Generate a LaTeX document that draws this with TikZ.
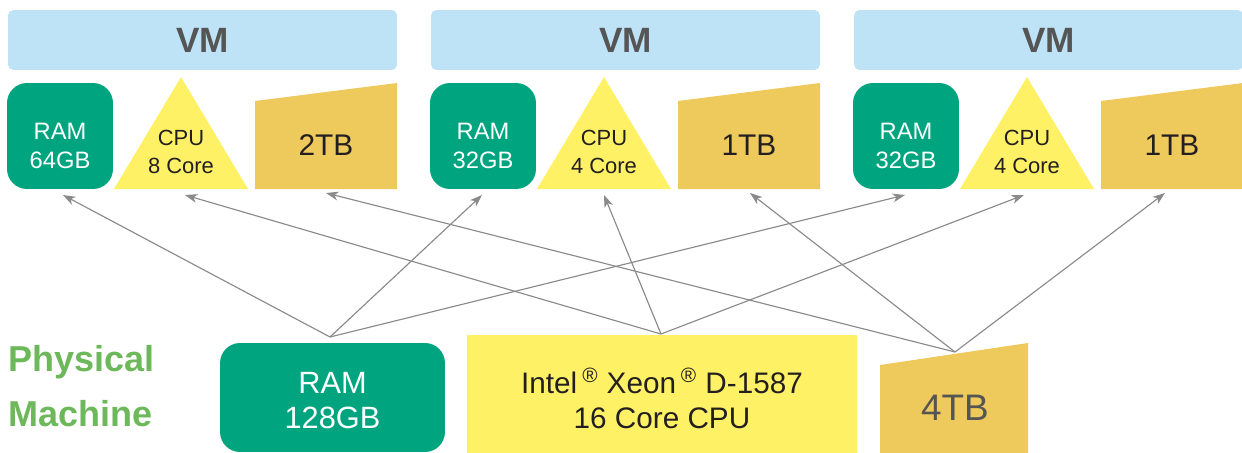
\documentclass[tikz,border=0pt]{standalone}
\usepackage{fontspec}
\setmainfont{Liberation Sans}
\usetikzlibrary{arrows.meta}

\definecolor{vmblue}{HTML}{BEE3F6}
\definecolor{ramgreen}{HTML}{00A57F}
\definecolor{cpuyellow}{HTML}{FFF166}
\definecolor{diskgold}{HTML}{EEC95C}
\definecolor{physgreen}{HTML}{6DB85B}
\definecolor{textgray}{HTML}{555555}
\definecolor{textdark}{HTML}{231F20}
\definecolor{linkgray}{HTML}{8A8A8A}

\begin{document}
\begin{tikzpicture}[x=0.02cm, y=-0.02cm,
    vmbox/.style={fill=vmblue, rounded corners=3pt, minimum width=7.78cm, minimum height=1.2cm,
        text=textgray, font=\fontsize{20}{24}\selectfont\bfseries},
    ramsmall/.style={fill=ramgreen, rounded corners=0.4cm, minimum width=2.12cm, minimum height=2.12cm},
    ramtext/.style={text=white, align=center, font=\fontsize{13.5}{16}\selectfont},
    cputext/.style={text=textdark, align=center, font=\fontsize{12.5}{16}\selectfont},
    disktext/.style={text=textdark, font=\fontsize{17}{20}\selectfont},
    rambig/.style={fill=ramgreen, rounded corners=0.4cm, minimum width=4.5cm, minimum height=2.18cm},
    rambigtext/.style={text=white, align=center, font=\fontsize{17.5}{19.5}\selectfont},
    cpubig/.style={fill=cpuyellow, minimum width=7.8cm, minimum height=2.36cm,
        text=textdark, align=center, font=\fontsize{16.9}{20}\selectfont},
    link/.style={linkgray, line width=0.65pt, -{Stealth[length=7pt, width=5pt, inset=2pt]}}]
\useasboundingbox (0,0) rectangle (1242,453);

% virtual machines
\foreach \i/\mem/\core/\disk/\rx/\cx/\dx in {0/64/8/2/63/185/326, 1/32/4/1/59/181/327, 2/32/4/1/59/178/319} {
    \node[vmbox] (vm\i) at (423*\i+202.5,40) {VM};
    \node[ramsmall] (ram\i) at (423*\i+60,136) {};
    \node[ramtext] (ramlbl\i) at ([yshift=-0.2cm]ram\i.center) {RAM\\\mem GB};
    \fill[cpuyellow] (423*\i+181,77) -- (423*\i+248,189) -- (423*\i+114,189) -- cycle;
    \node[cputext] (cpu\i) at (423*\i+181,152) {CPU\\\core{} Core};
    \fill[diskgold] (423*\i+255,101) -- (423*\i+397,83) -- (423*\i+397,189) -- (423*\i+255,189) -- cycle;
    \node[disktext] (disk\i) at (423*\i+326,145) {\disk TB};
    \coordinate (ramin\i) at (423*\i+\rx,195);
    \coordinate (cpuin\i) at (423*\i+\cx,195);
    \coordinate (diskin\i) at (423*\i+\dx,193);
}

% physical machine
\node[anchor=west, align=left, inner sep=0pt, text=physgreen, font=\fontsize{20.5}{31}\selectfont\bfseries] (phys) at (8,386) {Physical\\Machine};
\node[rambig] (pram) at (332.5,397.5) {};
\node[rambigtext] (pramlbl) at ([yshift=-0.06cm]pram.center) {RAM\\128GB};
\node[cpubig] (pcpu) at (662,394) {};
\node[cpubig, fill=none, minimum size=0pt] (pcpulbl) at ([yshift=-0.08cm]pcpu.center) {Intel\,\textsuperscript{\textregistered} Xeon\,\textsuperscript{\textregistered} D-1587\\16 Core CPU};
\fill[diskgold] (880,365) -- (1028,343) -- (1028,453) -- (880,453) -- cycle;
\node[text=textgray, font=\fontsize{21}{24}\selectfont] (pdisk) at (955,408) {4TB};
\coordinate (ramout) at (330,337);
\coordinate (cpuout) at (661,334);
\coordinate (diskout) at (955,352);

\foreach \i in {0,1,2} {
    \draw[link] (ramout) -- (ramin\i);
    \draw[link] (cpuout) -- (cpuin\i);
    \draw[link] (diskout) -- (diskin\i);
}
\end{tikzpicture}
\end{document}
